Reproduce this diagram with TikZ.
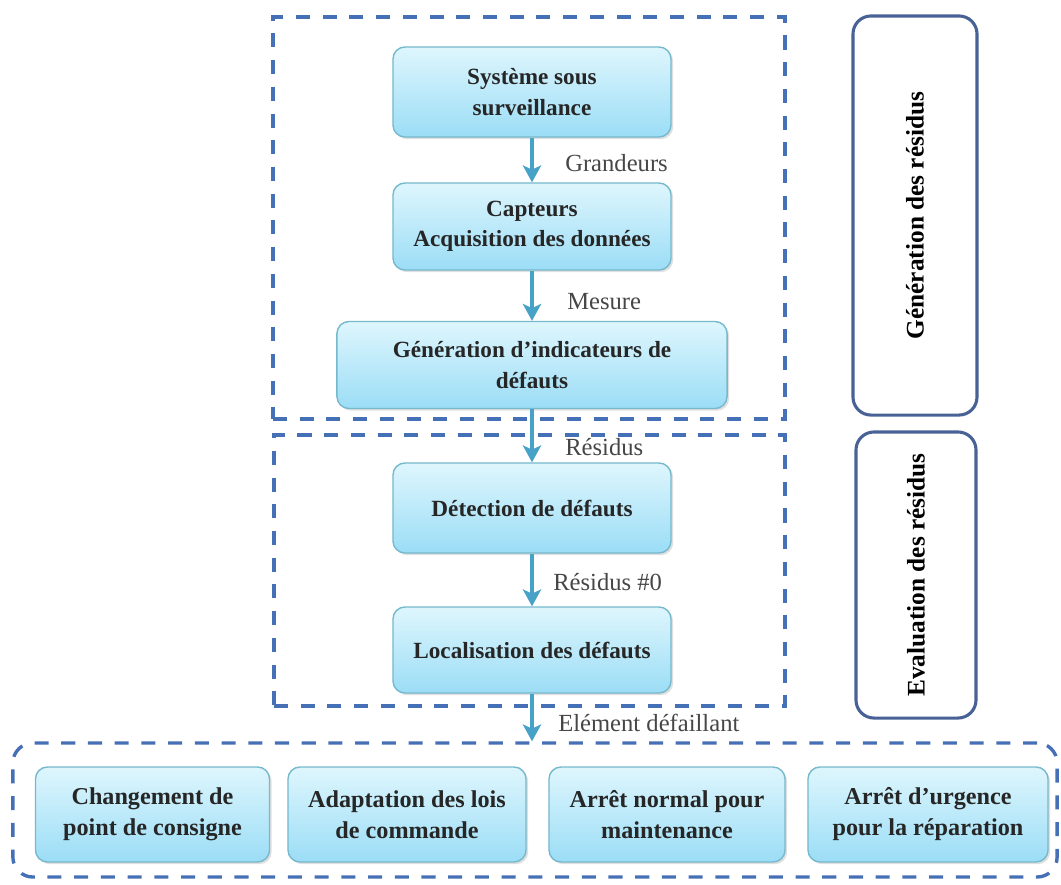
\documentclass[tikz,border=0pt]{standalone}
\usepackage{fontspec}
\usepackage{graphicx}
\setmainfont{Liberation Serif}
\usetikzlibrary{arrows.meta,shadows}
\definecolor{dashblue}{RGB}{70,112,182}
\definecolor{sideblue}{RGB}{72,98,150}
\definecolor{arrowblue}{RGB}{72,162,200}
\definecolor{boxedge}{RGB}{118,184,204}
\definecolor{boxtop}{RGB}{222,246,253}
\definecolor{boxbot}{RGB}{155,221,246}
\definecolor{lblgray}{RGB}{70,70,70}
\newcommand\bxfont{\fontsize{16.5}{21.5}\selectfont\bfseries}
\newcommand\btfont{\fontsize{17.2}{22}\selectfont\bfseries}
\newcommand\sdfont{\fontsize{18}{22}\selectfont\bfseries}
\newcommand\lbfont{\fontsize{17.5}{21}\selectfont}
\tikzset{
  bluebox/.style={rounded corners=0.3cm, draw=boxedge, line width=1pt,
    top color=boxtop, bottom color=boxbot, align=center, font=\bxfont,
    text=black!85, inner sep=2pt,
    drop shadow={opacity=0.25, shadow xshift=1.5pt, shadow yshift=-1.5pt}},
  actbox/.style={bluebox, font=\btfont, minimum height=2.375cm},
  dashbox/.style={draw=dashblue, line width=2.4pt, dash pattern=on 10pt off 9pt, inner sep=0pt},
  sidebox/.style={draw=sideblue, line width=2.2pt, rounded corners=0.45cm, inner sep=0pt, font=\sdfont, fill=white},
  flow/.style={draw=arrowblue, line width=2.8pt, -{Stealth[length=12pt, width=13pt, inset=3pt]}},
  lbl/.style={font=\lbfont, text=lblgray, anchor=west, inner sep=0pt}
}
\begin{document}
\begin{tikzpicture}[x=0.025cm, y=-0.025cm]
\useasboundingbox (0,0) rectangle (1061,884);
% dashed containers
\node[dashbox, minimum width=12.8cm, minimum height=10.05cm] (g1) at (529,218) {};
\node[dashbox, minimum width=12.775cm, minimum height=6.775cm] (g2) at (529.5,570.5) {};
\node[dashbox, rounded corners=0.5cm, minimum width=26.1cm, minimum height=3.35cm] (g3) at (535,810) {};
% side boxes
\node[sidebox, minimum width=3.1cm, minimum height=9.975cm] (s1) at (915,215.5) {\rotatebox{90}{Génération des résidus}};
\node[sidebox, minimum width=3.0cm, minimum height=7.15cm] (s2) at (916,575) {\rotatebox{90}{Evaluation des résidus}};
% main flow
\node[bluebox, minimum width=6.95cm, minimum height=2.25cm] (b1) at (532,92) {Système sous\\surveillance};
\node[bluebox, minimum width=6.95cm, minimum height=2.175cm] (b2) at (532,226.5) {Capteurs\\Acquisition des données};
\node[bluebox, minimum width=9.75cm, minimum height=2.175cm] (b3) at (532,365) {Génération d’indicateurs de\\défauts};
\node[bluebox, minimum width=6.95cm, minimum height=2.25cm] (b4) at (532,508) {Détection de défauts};
\node[bluebox, minimum width=6.95cm, minimum height=2.15cm] (b5) at (532,650) {Localisation des défauts};
% bottom actions
\node[actbox, minimum width=5.85cm] (a1) at (152.5,814.5) {Changement de\\point de consigne};
\node[actbox, minimum width=5.95cm] (a2) at (407,814.5) {Adaptation des lois\\de commande};
\node[actbox, minimum width=5.9cm] (a3) at (667,814.5) {Arrêt normal pour\\maintenance};
\node[actbox, minimum width=6.0cm] (a4) at (928,814.5) {Arrêt d’urgence\\pour la réparation};
% connectors
\draw[flow] (b1.south) -- (b2.north);
\draw[flow] (b2.south) -- (b3.north);
\draw[flow] (b3.south) -- (b4.north);
\draw[flow] (b4.south) -- (b5.north);
\draw[flow] (b5.south) -- (b5.south |- g3.north);
% labels
\node[lbl] (l1) at (565,163) {Grandeurs};
\node[lbl] (l2) at (567,302) {Mesure};
\node[lbl] (l3) at (565,447) {Résidus};
\node[lbl] (l4) at (553,582) {Résidus \#0};
\node[lbl] (l5) at (558,723) {Elément défaillant};
\end{tikzpicture}
\end{document}
